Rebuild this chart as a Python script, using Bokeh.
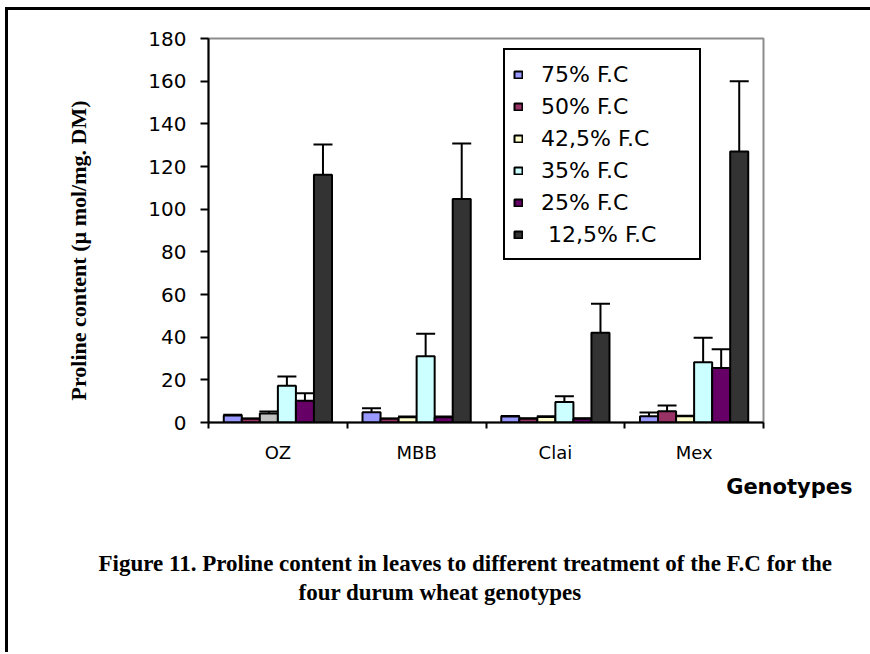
from bokeh.plotting import figure
from bokeh.layouts import column
from bokeh.models import (Range1d, FixedTicker, Whisker, TeeHead, ColumnDataSource,
                          Legend, LegendItem, Title)
from bokeh.embed import file_html
from bokeh.resources import INLINE

# ---------------- data ----------------
genotypes = ["OZ", "MBB", "Clai", "Mex"]
treatments = ["75% F.C", "50% F.C", "42,5% F.C", "35% F.C", "25% F.C", " 12,5% F.C"]

v75 = [3.3, 4.8, 2.8, 2.9]
e75 = [0.3, 1.9, 0.3, 1.8]
v50 = [1.7, 1.7, 1.8, 5.3]
e50 = [0.2, 0.2, 0.2, 2.7]
v425 = [4.2, 2.5, 2.6, 2.9]
e425 = [1.0, 0.3, 0.3, 0.3]
v35 = [17.2, 31.1, 9.6, 28.3]
e35 = [4.4, 10.5, 2.7, 11.4]
v25 = [10.2, 2.5, 1.8, 25.6]
e25 = [3.5, 0.3, 0.2, 8.7]
v125 = [116.1, 104.8, 42.1, 127.0]
e125 = [14.2, 26.0, 13.6, 33.0]

y_ticks = [0, 20, 40, 60, 80, 100, 120, 140, 160, 180]

values = [v75, v50, v425, v35, v25, v125]
errors = [e75, e50, e425, e35, e25, e125]

# styles
series_colors = [
    ["#9999FF"] * 4,
    ["#993366"] * 4,
    ["#C0C0C0", "#FFFFCC", "#FFFFCC", "#FFFFCC"],
    ["#CCFFFF"] * 4,
    ["#660066"] * 4,
    ["#333333"] * 4,
]

SANS = "DejaVu Sans"
SERIF = "Liberation Serif"

# window geometry (pixels)
OX, OY = 8, 10          # canvas origin inside the black outer frame
W, H = 870 - OX + 8, 654 - OY - 2   # canvas runs a little past the right window edge
FL, FR, FT, FB = 208 - OX, 763 - OX, 38 - OY, 422 - OY

p = figure(width=W, height=H, output_backend="svg", toolbar_location=None,
           x_range=Range1d(0, 4), y_range=Range1d(0, 180),
           min_border_left=FL, min_border_right=W - FR,
           min_border_top=FT, min_border_bottom=H - FB)
p.xgrid.visible = False
p.ygrid.visible = False
p.background_fill_color = "white"
p.border_fill_color = "white"
p.outline_line_color = "#8c8c8c"
p.outline_line_width = 2

bw = 0.13
n = len(treatments)
items = []
for j in range(n):
    xs = [i + 0.5 + (j - (n - 1) / 2) * bw for i in range(len(genotypes))]
    src = ColumnDataSource(dict(
        x=xs, top=values[j],
        upper=[v + e for v, e in zip(values[j], errors[j])],
        color=series_colors[j]))
    r = p.vbar(x="x", top="top", width=bw, bottom=0, source=src,
               fill_color="color", line_color="black", line_width=2)
    w = Whisker(source=src, base="x", upper="upper", lower="top",
                dimension="height", line_color="black", line_width=2,
                upper_head=TeeHead(size=19, line_width=2, line_color="black"),
                lower_head=None)
    p.add_layout(w)
    items.append(LegendItem(label=treatments[j], renderers=[r], index=1))

legend = Legend(items=items)
legend.location = (503 - 208, 422 - 260)
legend.border_line_color = "black"
legend.border_line_width = 2
legend.border_line_alpha = 1
legend.background_fill_color = "white"
legend.background_fill_alpha = 1
legend.glyph_width = 10
legend.glyph_height = 9
legend.label_standoff = 18
legend.padding = 8
legend.spacing = 0
legend.margin = 0
legend.label_height = 32
legend.label_width = 150
legend.label_text_font = SANS
legend.label_text_font_size = "22px"
legend.label_text_color = "black"
p.add_layout(legend)

# y axis
ya = p.yaxis[0]
ya.ticker = FixedTicker(ticks=y_ticks)
ya.axis_line_width = 2
ya.axis_line_color = "black"
ya.major_tick_line_width = 2
ya.major_tick_line_color = "black"
ya.major_tick_out = 8
ya.major_tick_in = 0
ya.minor_tick_line_color = None
ya.major_label_text_font = SANS
ya.major_label_text_font_size = "20px"
ya.major_label_text_color = "black"
ya.major_label_standoff = 14

# x axis: labels at category centres, tick marks at category boundaries
xa = p.xaxis[0]
xa.ticker = FixedTicker(ticks=[i + 0.5 for i in range(len(genotypes))],
                        minor_ticks=list(range(len(genotypes) + 1)))
xa.major_label_overrides = {i + 0.5: g for i, g in enumerate(genotypes)}
xa.axis_line_width = 2
xa.axis_line_color = "black"
xa.major_tick_line_color = None
xa.major_tick_out = 0
xa.major_tick_in = 0
xa.minor_tick_line_color = "black"
xa.minor_tick_line_width = 2
xa.minor_tick_out = 6
xa.minor_tick_in = 0
xa.major_label_text_font = SANS
xa.major_label_text_font_size = "18px"
xa.major_label_text_color = "black"
xa.major_label_standoff = 13

# y axis title (left panel)
p.add_layout(Title(text="Proline content (\u00b5 mol/mg. DM)", align="left",
                   offset=22, standoff=110,
                   text_font=SERIF, text_font_style="bold", text_font_size="22px",
                   text_color="black"), "left")

# x axis title, right part of the chart
p.add_layout(Title(text="Genotypes", align="right", offset=763 - 852,
                   standoff=14,
                   text_font=SANS, text_font_style="bold", text_font_size="21px",
                   text_color="black"), "below")

# vertical gap before the caption
p.add_layout(Title(text=" ", standoff=15, text_font=SERIF,
                   text_font_size="23px"), "below")

# caption
p.add_layout(Title(text="Figure 11. Proline content in leaves to different treatment of the F.C for the",
                   align="left", offset=98 - 208, standoff=2,
                   text_font=SERIF, text_font_style="bold", text_font_size="23px",
                   text_color="black"), "below")
p.add_layout(Title(text="four durum wheat genotypes",
                   align="left", offset=298 - 208, standoff=2,
                   text_font=SERIF, text_font_style="bold", text_font_size="23px",
                   text_color="black"), "below")

root = column(p, styles={"border-top": "3px solid black", "border-left": "3px solid black",
                         "margin-left": f"{OX - 3}px", "margin-top": f"{OY - 3}px"})

html = file_html(root, INLINE)
html = html.replace("<body>", '<body style="overflow:hidden; margin:0">', 1)
open("out.html", "w").write(html)
